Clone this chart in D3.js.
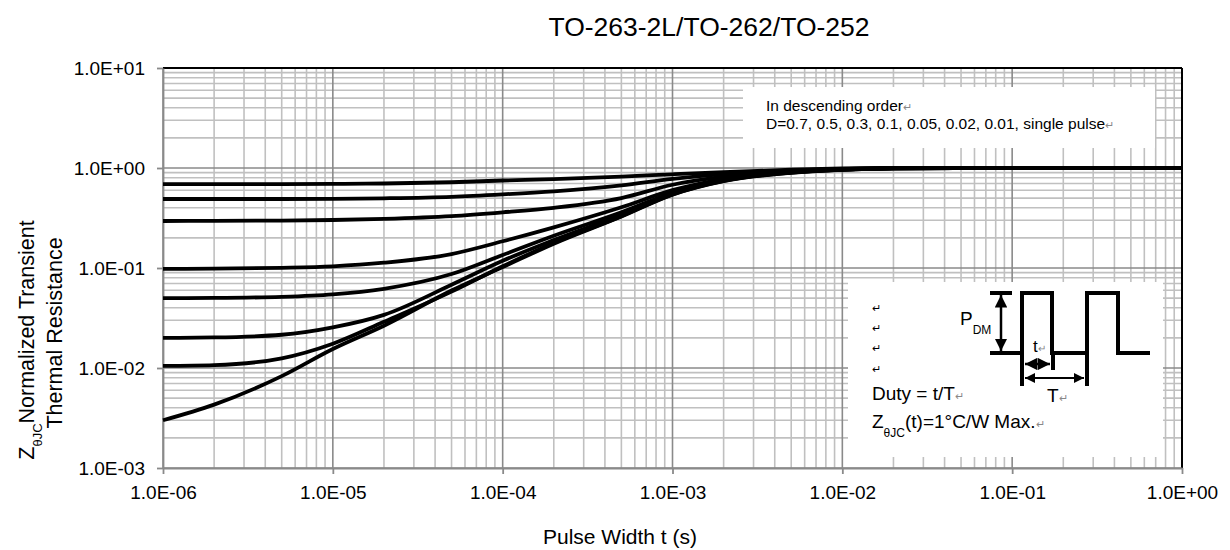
<!DOCTYPE html>
<html><head><meta charset="utf-8">
<script src="https://cdn.jsdelivr.net/npm/d3@7"></script>
<style>
body{margin:0;background:#fff}
svg{display:block}
text{font-family:"Liberation Sans",Arial,sans-serif;fill:#000}
</style>
</head><body>
<svg id="c" width="1230" height="550"></svg>
<script>
// ---------- data ----------
const pulseWidth = [1e-6,2e-6,5e-6,1e-5,2e-5,5e-5,1e-4,2e-4,5e-4,1e-3,2e-3,5e-3,1e-2,2e-2,5e-2,1e-1,1];
const dutyLabels = ["0.7","0.5","0.3","0.1","0.05","0.02","0.01","single pulse"];
const zD070  = [0.69,0.69,0.69,0.693,0.70,0.72,0.75,0.775,0.82,0.865,0.91,0.96,0.988,0.998,1,1,1];
const zD050  = [0.49,0.49,0.49,0.492,0.498,0.515,0.545,0.585,0.67,0.78,0.87,0.945,0.982,0.997,1,1,1];
const zD030  = [0.295,0.296,0.298,0.302,0.31,0.33,0.36,0.40,0.50,0.68,0.82,0.93,0.975,0.996,1,1,1];
const zD010  = [0.098,0.0985,0.1005,0.104,0.113,0.138,0.185,0.255,0.405,0.60,0.775,0.915,0.968,0.994,1,1,1];
const zD005  = [0.050,0.0502,0.0515,0.0545,0.062,0.087,0.135,0.21,0.36,0.565,0.76,0.91,0.965,0.993,1,1,1];
const zD002  = [0.020,0.0202,0.0215,0.0255,0.034,0.068,0.118,0.19,0.34,0.55,0.75,0.905,0.962,0.992,1,1,1];
const zD001  = [0.0105,0.0107,0.0125,0.0175,0.029,0.058,0.104,0.178,0.33,0.545,0.745,0.90,0.96,0.991,1,1,1];
const zSingle= [0.0030,0.0043,0.0083,0.0155,0.0265,0.0595,0.102,0.175,0.327,0.542,0.74,0.895,0.958,0.99,1,1,1];
const seriesList = [zD070,zD050,zD030,zD010,zD005,zD002,zD001,zSingle];

const xTickValues = [1e-6,1e-5,1e-4,1e-3,1e-2,1e-1,1];
const xTickLabels = ["1.0E-06","1.0E-05","1.0E-04","1.0E-03","1.0E-02","1.0E-01","1.0E+00"];
const yTickValues = [1e-3,1e-2,1e-1,1,10];
const yTickLabels = ["1.0E-03","1.0E-02","1.0E-01","1.0E+00","1.0E+01"];

const titleText = "TO-263-2L/TO-262/TO-252";
const xTitle = "Pulse Width t (s)";
const legendLine1 = "In descending order";
const legendLine2 = "D=" + dutyLabels.join(", ");

// ---------- layout ----------
const svg = d3.select("#c");
const L=163, R=1182, T=68, B=468;
const x = d3.scaleLog().domain([1e-6,1]).range([L,R]);
const y = d3.scaleLog().domain([1e-3,10]).range([B,T]);

// grid
const minorX=[], majorX=[], minorY=[], majorY=[];
for(let e=-6;e<0;e++){ majorX.push(Math.pow(10,e)); for(let k=2;k<=9;k++) minorX.push(k*Math.pow(10,e)); }
for(let e=-3;e<1;e++){ majorY.push(Math.pow(10,e)); for(let k=2;k<=9;k++) minorY.push(k*Math.pow(10,e)); }
const g = svg.append("g");
g.selectAll(".mx").data(minorX).join("line").attr("x1",d=>x(d)).attr("x2",d=>x(d)).attr("y1",T).attr("y2",B)
  .attr("stroke","#c0c0c0").attr("stroke-width",1.6);
g.selectAll(".my").data(minorY).join("line").attr("y1",d=>y(d)).attr("y2",d=>y(d)).attr("x1",L).attr("x2",R)
  .attr("stroke","#c0c0c0").attr("stroke-width",1.6);
g.selectAll(".Mx").data(majorX).join("line").attr("x1",d=>x(d)).attr("x2",d=>x(d)).attr("y1",T).attr("y2",B)
  .attr("stroke","#8a8a8a").attr("stroke-width",1.6);
g.selectAll(".My").data(majorY).join("line").attr("y1",d=>y(d)).attr("y2",d=>y(d)).attr("x1",L).attr("x2",R)
  .attr("stroke","#8a8a8a").attr("stroke-width",1.6);

// legend box and inset box (cover grid)
svg.append("rect").attr("x",743).attr("y",87).attr("width",412).attr("height",61).attr("fill","#fff");
svg.append("rect").attr("x",848).attr("y",282).attr("width",315).attr("height",175).attr("fill","#fff");

// top/right border
svg.append("line").attr("x1",L).attr("x2",R).attr("y1",T).attr("y2",T).attr("stroke","#000").attr("stroke-width",2);
svg.append("line").attr("x1",R).attr("x2",R).attr("y1",T).attr("y2",B).attr("stroke","#000").attr("stroke-width",2);

// axes
const ax = svg.append("g").attr("transform",`translate(0,${B})`)
  .call(d3.axisBottom(x).tickValues(xTickValues).tickFormat((d,i)=>xTickLabels[i]).tickSizeInner(6).tickSizeOuter(0).tickPadding(12));
const ay = svg.append("g").attr("transform",`translate(${L},0)`)
  .call(d3.axisLeft(y).tickValues(yTickValues).tickFormat((d,i)=>yTickLabels[i]).tickSizeInner(6).tickSizeOuter(0).tickPadding(12));
[ax,ay].forEach(a=>{
  a.selectAll("path,line").attr("stroke","#8a8a8a").attr("stroke-width",1.8);
  a.selectAll("text").style("font-family",'"Liberation Sans",Arial,sans-serif').style("font-size","19px").attr("fill","#000");
});

// curves
const line = d3.line().x((d,i)=>x(pulseWidth[i])).y(d=>y(d)).curve(d3.curveMonotoneX);
svg.append("g").selectAll("path").data(seriesList).join("path")
  .attr("d",d=>line(d)).attr("fill","none").attr("stroke","#000").attr("stroke-width",3.8)
  .attr("stroke-linejoin","round");

// title
svg.append("text").attr("x",709).attr("y",36).attr("text-anchor","middle").style("font-size","26.5px").text(titleText);
// x title
svg.append("text").attr("x",620).attr("y",544).attr("text-anchor","middle").style("font-size","21px").text(xTitle);
// y title
const yt = svg.append("text").attr("transform","translate(34,340) rotate(-90)").attr("text-anchor","middle").style("font-size","21.5px");
yt.append("tspan").text("Z");
yt.append("tspan").attr("dy",8).style("font-size","13px").text("θJC");
yt.append("tspan").attr("dy",-8).text("Normalized Transient");
svg.append("text").attr("transform","translate(62,333) rotate(-90)").attr("text-anchor","middle").style("font-size","21.5px").text("Thermal Resistance");

// legend text
const pm = "\u21B5";
const lt1 = svg.append("text").attr("x",766).attr("y",111).style("font-size","15.5px");
lt1.append("tspan").text(legendLine1); lt1.append("tspan").attr("fill","#888").style("font-size","11px").text(pm);
const lt2 = svg.append("text").attr("x",766).attr("y",129).style("font-size","15.5px");
lt2.append("tspan").text(legendLine2); lt2.append("tspan").attr("fill","#888").style("font-size","11px").text(pm);

// inset diagram (local coordinates relative to inset origin)
const ix = 848, iy = 282;
const inset = svg.append("g").attr("transform",`translate(${ix},${iy})`);
const lo = 71, hi = 11;
const wave = [[142,lo],[174,lo],[174,hi],[204,hi],[204,lo],[239,lo],[239,hi],[270,hi],[270,lo],[302,lo]];
inset.append("path").attr("d",d3.line()(wave)).attr("fill","none").attr("stroke","#000").attr("stroke-width",4).attr("stroke-linejoin","miter");
inset.append("line").attr("x1",142).attr("x2",164).attr("y1",hi).attr("y2",hi).attr("stroke","#000").attr("stroke-width",4);
// markers
const defs = svg.append("defs");
defs.append("marker").attr("id","ah").attr("viewBox","0 0 10 10").attr("refX",10).attr("refY",5)
  .attr("markerWidth",5).attr("markerHeight",5).attr("markerUnits","strokeWidth").attr("orient","auto-start-reverse")
  .append("path").attr("d","M0,0L10,5L0,10Z").attr("fill","#000");
inset.append("line").attr("x1",153).attr("x2",153).attr("y1",hi+2).attr("y2",lo-2).attr("stroke","#000").attr("stroke-width",2.5)
  .attr("marker-start","url(#ah)").attr("marker-end","url(#ah)");
// t and T dimension lines
inset.append("line").attr("x1",174).attr("x2",174).attr("y1",lo).attr("y2",lo+33).attr("stroke","#000").attr("stroke-width",4);
inset.append("line").attr("x1",205).attr("x2",205).attr("y1",lo).attr("y2",lo+17).attr("stroke","#000").attr("stroke-width",4);
inset.append("line").attr("x1",239).attr("x2",239).attr("y1",lo).attr("y2",lo+33).attr("stroke","#000").attr("stroke-width",4);
inset.append("line").attr("x1",177).attr("x2",202).attr("y1",lo+11).attr("y2",lo+11).attr("stroke","#000").attr("stroke-width",2.5)
  .attr("marker-start","url(#ah)").attr("marker-end","url(#ah)");
inset.append("line").attr("x1",177).attr("x2",236).attr("y1",lo+25).attr("y2",lo+25).attr("stroke","#000").attr("stroke-width",2)
  .attr("marker-start","url(#ah)").attr("marker-end","url(#ah)");
// labels
const pl = inset.append("text").attr("x",112).attr("y",43).style("font-size","19px");
pl.append("tspan").text("P"); pl.append("tspan").attr("dy",9).style("font-size","12px").text("DM");
const tl = inset.append("text").attr("x",185).attr("y",70).style("font-size","17px");
tl.append("tspan").text("t"); tl.append("tspan").attr("fill","#888").style("font-size","10px").text(pm);
const Tl = inset.append("text").attr("x",199).attr("y",120).style("font-size","19px");
Tl.append("tspan").text("T"); Tl.append("tspan").attr("fill","#888").style("font-size","11px").text(pm);
[30,50,70,91].forEach(v=>inset.append("text").attr("x",24).attr("y",v).attr("fill","#888").style("font-size","11px").text(pm));
const du = inset.append("text").attr("x",24).attr("y",118).style("font-size","19px");
du.append("tspan").text("Duty = t/T"); du.append("tspan").attr("fill","#888").style("font-size","11px").text(pm);
const zl = inset.append("text").attr("x",24).attr("y",146).style("font-size","19px");
zl.append("tspan").text("Z"); zl.append("tspan").attr("dy",9).style("font-size","12px").text("θJC");
zl.append("tspan").attr("dy",-9).text("(t)=1°C/W Max."); zl.append("tspan").attr("fill","#888").style("font-size","11px").text(pm);
</script>
</body></html>
